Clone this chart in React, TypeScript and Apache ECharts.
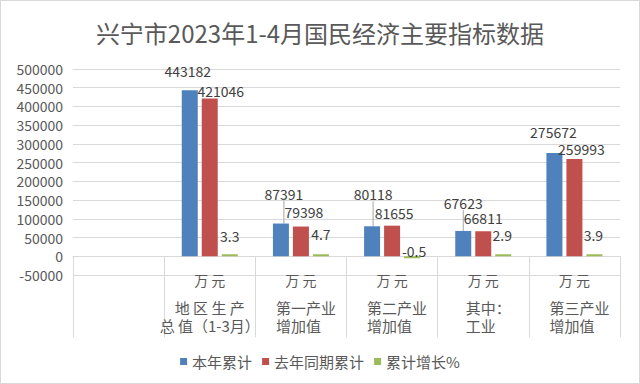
import React, { useEffect, useRef } from 'react';
import * as echarts from 'echarts';

const FONT = "'Noto Sans CJK SC', 'Noto Sans', sans-serif";

const chartTitle = '兴宁市2023年1-4月国民经济主要指标数据';
const categories = ['', '地 区 生 产\n总 值（1-3月）', '第一产业\n增加值', '第二产业\n增加值', '其中：\n工业', '第三产业\n增加值'];
const units = ['', '万 元', '万 元', '万 元', '万 元', '万 元'];
const seriesNames = ['本年累计', '去年同期累计', '累计增长%'];
const thisYear = [null, 443182, 87391, 80118, 67623, 275672];
const lastYear = [null, 421046, 79398, 81655, 66811, 259993];
const growth = [null, 3.3, 4.7, -0.5, 2.9, 3.9];
const yMin = -50000;
const yMax = 500000;
const yStep = 50000;

// label nudges (styling, relative to the bar top)
const thisYearLabelShift = [[0, 0], [-2, -12], [3, -23], [1, -25], [0, -21], [-1, -14]];
const lastYearLabelShift = [[0, 0], [11, -1], [3, -8], [2, -6], [0, -6], [7, -3]];
const growthLabelShift = [[0, 0], [0, -11], [0, -13], [2, 2], [-1, -12], [-1, -12]];
const thisYearLeader = [false, false, true, true, true, false];

const COLORS = ['#4F81BD', '#C0504D', '#9BBB59'];
const GRID_COLOR = '#d9d9d9';
const AXIS_TEXT = '#595959';
const LABEL_TEXT = '#404040';

function makeSeries(
  name: string,
  values: (number | null)[],
  color: string,
  shifts: number[][],
  leaders: boolean[] | null,
  minHeight: number,
) {
  return {
    name,
    type: 'bar',
    data: values.map((v, i) =>
      v === null ? '-' : { value: v, labelLine: { show: leaders ? leaders[i] : false } },
    ),
    barWidth: 16,
    barGap: '25%',
    barMinHeight: minHeight,
    itemStyle: { color },
    label: {
      show: true,
      position: 'top',
      distance: 0,
      color: LABEL_TEXT,
      fontSize: 14,
      fontFamily: FONT,
    },
    labelLine: { show: false, lineStyle: { color: '#a6a6a6', width: 1 } },
    labelLayout: (p: any) => {
      const s = shifts[p.dataIndex] || [0, 0];
      return { dx: s[0], dy: s[1] };
    },
  };
}

export default function App() {
  const ref = useRef<HTMLDivElement>(null);

  useEffect(() => {
    if (!ref.current) return;
    const chart = echarts.init(ref.current, undefined, { renderer: 'svg' });
    const option: any = {
      animation: false,
      backgroundColor: '#ffffff',
      textStyle: { fontFamily: FONT },
      title: {
        text: chartTitle,
        left: 'center',
        top: 14,
        textStyle: { fontSize: 24, fontWeight: 'normal', color: AXIS_TEXT, fontFamily: FONT },
      },
      legend: {
        data: seriesNames,
        left: 'center',
        top: 348,
        icon: 'rect',
        itemWidth: 7,
        itemHeight: 7,
        itemGap: 10,
        textStyle: { fontSize: 15, color: AXIS_TEXT, fontFamily: FONT },
      },
      grid: { left: 72, right: 19, top: 68, bottom: 108, containLabel: false },
      xAxis: {
        type: 'category',
        data: categories,
        boundaryGap: true,
        axisLine: { show: true, onZero: true, lineStyle: { color: GRID_COLOR, width: 1 } },
        axisTick: {
          show: true,
          interval: 0,
          alignWithLabel: false,
          length: 81,
          lineStyle: { color: GRID_COLOR, width: 1 },
        },
        splitLine: { show: false },
        axisLabel: {
          interval: 0,
          margin: -4,
          color: AXIS_TEXT,
          fontFamily: FONT,
          formatter: (value: string, index: number) => {
            if (!value) return '';
            const lines = value.split('\n');
            const st = index === 1 ? 'c' : 'n';
            return `{u|${units[index]}}\n{s| }\n` + lines.map((l) => `{${st}|${l}}`).join('\n');
          },
          rich: {
            u: { fontSize: 14, lineHeight: 18, align: 'center', color: AXIS_TEXT, fontFamily: FONT },
            s: { fontSize: 8, lineHeight: 9 },
            n: { fontSize: 15, lineHeight: 18, align: 'left', padding: [0, 0, 0, 10], color: AXIS_TEXT, fontFamily: FONT },
            c: { fontSize: 15, lineHeight: 18, align: 'center', color: AXIS_TEXT, fontFamily: FONT },
          },
        },
      },
      yAxis: {
        type: 'value',
        min: yMin,
        max: yMax,
        interval: yStep,
        axisLine: { show: false },
        axisTick: { show: false },
        splitLine: { show: true, lineStyle: { color: GRID_COLOR, width: 1 } },
        axisLabel: {
          color: AXIS_TEXT,
          fontSize: 14,
          margin: 10,
          fontFamily: FONT,
          formatter: (v: number) => String(v),
        },
      },
      series: [
        makeSeries(seriesNames[0], thisYear, COLORS[0], thisYearLabelShift, thisYearLeader, 0),
        makeSeries(seriesNames[1], lastYear, COLORS[1], lastYearLabelShift, null, 0),
        makeSeries(seriesNames[2], growth, COLORS[2], growthLabelShift, null, 2),
      ],
    };
    chart.setOption(option);
    return () => {
      chart.dispose();
    };
  }, []);

  return (
    <div
      ref={ref}
      style={{
        position: 'fixed',
        left: 0,
        top: 0,
        width: 640,
        height: 384,
        boxSizing: 'border-box',
        border: '1px solid #d9d9d9',
        background: '#ffffff',
      }}
    />
  );
}
